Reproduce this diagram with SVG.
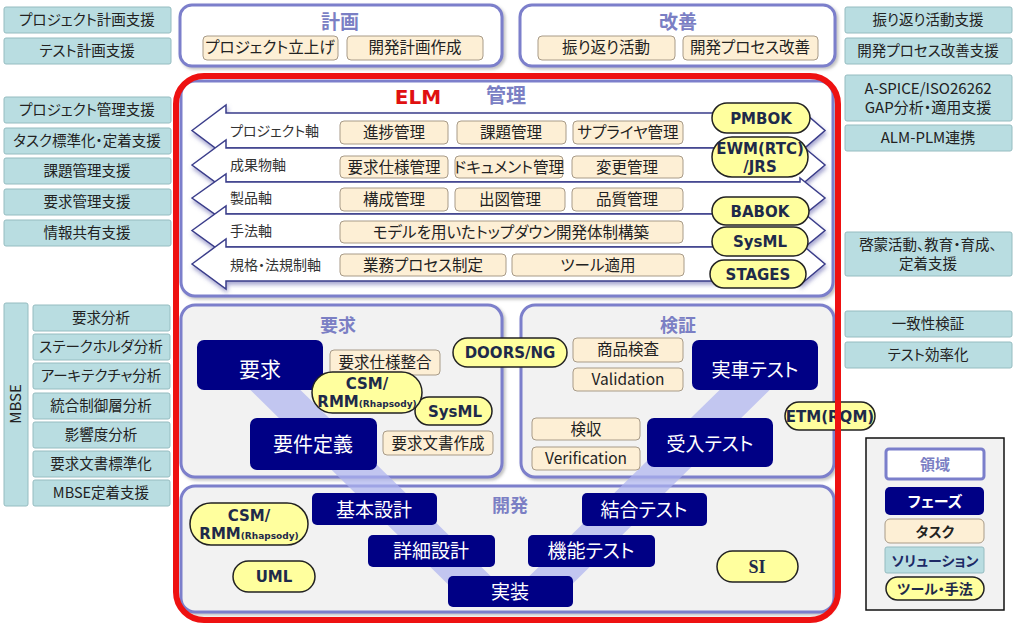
<svg xmlns="http://www.w3.org/2000/svg" width="1024" height="632" viewBox="0 0 1024 632">
<defs>
<filter id="sh" x="-5%" y="-5%" width="110%" height="115%">
<feDropShadow dx="2" dy="2" stdDeviation="1.5" flood-color="#777" flood-opacity="0.45"/>
</filter>
<filter id="ash" x="-5%" y="-20%" width="110%" height="150%">
<feDropShadow dx="1" dy="3" stdDeviation="2" flood-color="#5a5aa8" flood-opacity="0.55"/>
</filter>
<style>
.jp{font-family:"Noto Sans CJK JP","Noto Sans",sans-serif;font-feature-settings:"palt";text-anchor:middle}
.lat{font-family:"DejaVu Sans","Noto Sans CJK JP",sans-serif;font-weight:bold;text-anchor:middle;fill:#1e2a4a}
.sol{fill:#b9dde1;stroke:#95bcc0;stroke-width:1}
.task{fill:#fdefd5;stroke:#a89b88;stroke-width:1}
.tool{fill:#ffff9e;stroke:#222;stroke-width:1.5}
.phase{fill:#000085}
.area{fill:#f2f2f2;stroke:#7b7fcb;stroke-width:3}
.white{fill:#fff;stroke:#7b7fcb;stroke-width:3}
.band{fill:#fff;stroke:#3a3d8a;stroke-width:1.5}
.st{font-size:14.5px;fill:#222}
.tt{font-size:15.5px;fill:#222}
.pt{font-size:20px;fill:#fff}
.ti{font-size:19px;font-weight:bold;fill:#7b7fc4}
.ax{font-size:14px;fill:#333;text-anchor:start}
</style>
</defs>
<rect width="1024" height="632" fill="#fff"/>

<g id="left-solutions">
<rect class="sol" x="4" y="7" width="167" height="26" rx="2"/><text class="jp st" x="87" y="25">プロジェクト計画支援</text>
<rect class="sol" x="4" y="38" width="167" height="26" rx="2"/><text class="jp st" x="87" y="56">テスト計画支援</text>
<rect class="sol" x="4" y="97" width="167" height="26" rx="2"/><text class="jp st" x="87" y="115">プロジェクト管理支援</text>
<rect class="sol" x="4" y="128" width="167" height="26" rx="2"/><text class="jp st" x="87" y="146">タスク標準化・定着支援</text>
<rect class="sol" x="4" y="158" width="167" height="26" rx="2"/><text class="jp st" x="87" y="176">課題管理支援</text>
<rect class="sol" x="4" y="189" width="167" height="26" rx="2"/><text class="jp st" x="87" y="207">要求管理支援</text>
<rect class="sol" x="4" y="220" width="167" height="26" rx="2"/><text class="jp st" x="87" y="238">情報共有支援</text>
</g>

<g id="mbse">
<rect class="sol" x="4" y="303" width="24" height="203" rx="2"/>
<text class="jp st" transform="translate(21,404) rotate(-90)" x="0" y="0" style="font-size:15px">MBSE</text>
<rect class="sol" x="33" y="305" width="137" height="26" rx="2"/><text class="jp st" x="101" y="323">要求分析</text>
<rect class="sol" x="33" y="334" width="137" height="26" rx="2"/><text class="jp st" x="101" y="352">ステークホルダ分析</text>
<rect class="sol" x="33" y="363" width="137" height="26" rx="2"/><text class="jp st" x="101" y="381">アーキテクチャ分析</text>
<rect class="sol" x="33" y="393" width="137" height="26" rx="2"/><text class="jp st" x="101" y="411">統合制御層分析</text>
<rect class="sol" x="33" y="422" width="137" height="26" rx="2"/><text class="jp st" x="101" y="440">影響度分析</text>
<rect class="sol" x="33" y="451" width="137" height="26" rx="2"/><text class="jp st" x="101" y="469">要求文書標準化</text>
<rect class="sol" x="33" y="480" width="137" height="26" rx="2"/><text class="jp st" x="101" y="498">MBSE定着支援</text>
</g>

<g id="right-solutions">
<rect class="sol" x="845" y="7" width="167" height="26" rx="2"/><text class="jp st" x="928" y="25">振り返り活動支援</text>
<rect class="sol" x="845" y="38" width="167" height="26" rx="2"/><text class="jp st" x="928" y="56">開発プロセス改善支援</text>
<rect class="sol" x="845" y="75" width="167" height="46" rx="2"/><text class="jp st" x="928" y="94" style="font-size:15px">A-SPICE/ISO26262</text><text class="jp st" x="928" y="113" style="font-size:15px">GAP分析・適用支援</text>
<rect class="sol" x="845" y="125" width="167" height="26" rx="2"/><text class="jp st" x="928" y="143" style="font-size:15px">ALM-PLM連携</text>
<rect class="sol" x="845" y="232" width="167" height="44" rx="2"/><text class="jp st" x="928" y="250">啓蒙活動、教育・育成、</text><text class="jp st" x="928" y="269">定着支援</text>
<rect class="sol" x="845" y="311" width="167" height="26" rx="2"/><text class="jp st" x="928" y="329">一致性検証</text>
<rect class="sol" x="845" y="342" width="167" height="26" rx="2"/><text class="jp st" x="928" y="360">テスト効率化</text>
</g>

<g id="plan">
<rect class="white" x="180" y="5" width="322" height="61" rx="12" filter="url(#sh)"/>
<text class="jp ti" x="340" y="29">計画</text>
<rect class="task" x="203" y="36" width="135" height="24" rx="4"/><text class="jp tt" x="270" y="53">プロジェクト立上げ</text>
<rect class="task" x="347" y="36" width="136" height="24" rx="4"/><text class="jp tt" x="415" y="53">開発計画作成</text>
</g>

<g id="improve">
<rect class="white" x="520" y="5" width="315" height="61" rx="12" filter="url(#sh)"/>
<text class="jp ti" x="678" y="29">改善</text>
<rect class="task" x="538" y="36" width="137" height="24" rx="4"/><text class="jp tt" x="606" y="53">振り返り活動</text>
<rect class="task" x="683" y="36" width="135" height="24" rx="4"/><text class="jp tt" x="750" y="53">開発プロセス改善</text>
</g>

<g id="management">
<rect class="white" x="181" y="81" width="652" height="215" rx="14" filter="url(#sh)"/>
<text class="jp" x="418" y="104" style="font-size:20px;font-weight:bold;fill:#e01010;font-family:'DejaVu Sans','Noto Sans CJK JP',sans-serif">ELM</text>
<text class="jp ti" x="506" y="103" style="font-size:20px">管理</text>
<g id="axes" filter="url(#ash)">
<polygon class="band" points="192,130.5 226,105 226,113 800,113 800,109 825,130.5 800,152 800,148 226,148 226,156"/>
<polygon class="band" points="192,165 226,140 226,148 800,148 800,144 825,165 800,186 800,182 226,182 226,190"/>
<polygon class="band" points="192,198 226,174 226,182 800,182 800,178 825,198 800,218 800,214 226,214 226,222"/>
<polygon class="band" points="192,230.5 226,206 226,214 800,214 800,210 825,230.5 800,251 800,247 226,247 226,255"/>
<polygon class="band" points="192,264 226,239 226,247 800,247 800,243 825,264 800,285 800,281 226,281 226,289"/>
</g>
<text class="jp ax" x="230" y="136">プロジェクト軸</text>
<text class="jp ax" x="230" y="170">成果物軸</text>
<text class="jp ax" x="230" y="203">製品軸</text>
<text class="jp ax" x="230" y="236">手法軸</text>
<text class="jp ax" x="230" y="270">規格・法規制軸</text>
<rect class="task" x="340" y="121" width="108" height="23" rx="4"/><text class="jp tt" x="394" y="138">進捗管理</text>
<rect class="task" x="457" y="121" width="109" height="23" rx="4"/><text class="jp tt" x="511" y="138">課題管理</text>
<rect class="task" x="573" y="121" width="110" height="23" rx="4"/><text class="jp tt" x="628" y="138">サプライヤ管理</text>
<rect class="task" x="340" y="156" width="108" height="22" rx="4"/><text class="jp tt" x="394" y="173">要求仕様管理</text>
<rect class="task" x="455" y="156" width="108" height="22" rx="4"/><text class="jp tt" x="509" y="173">ドキュメント管理</text>
<rect class="task" x="572" y="156" width="111" height="22" rx="4"/><text class="jp tt" x="627" y="173">変更管理</text>
<rect class="task" x="340" y="188" width="108" height="23" rx="4"/><text class="jp tt" x="394" y="205">構成管理</text>
<rect class="task" x="455" y="188" width="110" height="23" rx="4"/><text class="jp tt" x="510" y="205">出図管理</text>
<rect class="task" x="572" y="188" width="111" height="23" rx="4"/><text class="jp tt" x="627" y="205">品質管理</text>
<rect class="task" x="340" y="221" width="343" height="22" rx="4"/><text class="jp tt" x="511" y="238">モデルを用いたトップダウン開発体制構築</text>
<rect class="task" x="340" y="254" width="166" height="22" rx="4"/><text class="jp tt" x="423" y="271">業務プロセス制定</text>
<rect class="task" x="512" y="254" width="172" height="22" rx="4"/><text class="jp tt" x="598" y="271">ツール適用</text>
<g id="mgmt-tools">
<rect class="tool" x="712" y="103" width="98" height="30" rx="15"/><text class="lat" x="761" y="124" style="font-size:15px">PMBOK</text>
<rect class="tool" x="712" y="137" width="96" height="40" rx="20"/><text class="lat" x="760" y="154" style="font-size:15px">EWM(RTC)</text><text class="lat" x="760" y="172" style="font-size:15px">/JRS</text>
<rect class="tool" x="712" y="197" width="97" height="28" rx="14"/><text class="lat" x="760" y="217" style="font-size:15px">BABOK</text>
<rect class="tool" x="712" y="227" width="96" height="29" rx="14.5"/><text class="lat" x="760" y="247" style="font-size:15px">SysML</text>
<rect class="tool" x="710" y="260" width="96" height="28" rx="14"/><text class="lat" x="758" y="280" style="font-size:15px">STAGES</text>
</g>
</g>

<g id="requirements-area">
<rect class="area" x="181" y="305" width="321" height="172" rx="14" filter="url(#sh)"/>
<text class="jp ti" x="338" y="332" style="font-size:18px">要求</text>
</g>
<g id="verification-area">
<rect class="area" x="521" y="305" width="313" height="172" rx="14" filter="url(#sh)"/>
<text class="jp ti" x="678" y="332" style="font-size:18px">検証</text>
</g>
<g id="development-area">
<rect class="area" x="181" y="486" width="653" height="126" rx="14" filter="url(#sh)"/>
<text class="jp ti" x="510" y="512" style="font-size:18px">開発</text>
</g>

<g id="connectors">
<polygon points="230,370 280,370 510,595 740,370 790,370 550,606 470,606" fill="#aeb3f0" fill-opacity="0.7"/>
</g>

<g id="phases">
<g id="p-req"><rect class="phase" x="197" y="340" width="126" height="50" rx="7"/><text class="jp pt" x="260" y="377" style="font-size:21px">要求</text></g>
<g id="p-reqdef"><rect class="phase" x="250" y="418" width="127" height="52" rx="7"/><text class="jp pt" x="313" y="452">要件定義</text></g>
<g id="p-vehicle"><rect class="phase" x="692" y="340" width="126" height="50" rx="7"/><text class="jp pt" x="755" y="377" style="font-size:19px">実車テスト</text></g>
<g id="p-accept"><rect class="phase" x="647" y="418" width="126" height="49" rx="7"/><text class="jp pt" x="710" y="451" style="font-size:19px">受入テスト</text></g>
<g id="p-basic"><rect class="phase" x="312" y="493" width="125" height="32" rx="5"/><text class="jp pt" x="374" y="517" style="font-size:19px">基本設計</text></g>
<g id="p-detail"><rect class="phase" x="368" y="535" width="127" height="32" rx="5"/><text class="jp pt" x="431" y="558" style="font-size:19px">詳細設計</text></g>
<g id="p-impl"><rect class="phase" x="448" y="576" width="125" height="31" rx="5"/><text class="jp pt" x="510" y="599" style="font-size:19px">実装</text></g>
<g id="p-integ"><rect class="phase" x="582" y="493" width="125" height="33" rx="5"/><text class="jp pt" x="644" y="517" style="font-size:19px">結合テスト</text></g>
<g id="p-func"><rect class="phase" x="528" y="535" width="127" height="32" rx="5"/><text class="jp pt" x="591" y="558" style="font-size:19px">機能テスト</text></g>
</g>

<g id="area-tasks">
<rect class="task" x="330" y="350" width="110" height="25" rx="4"/><text class="jp tt" x="385" y="368">要求仕様整合</text>
<rect class="task" x="383" y="431" width="110" height="24" rx="4"/><text class="jp tt" x="438" y="449">要求文書作成</text>
<rect class="task" x="573" y="338" width="110" height="24" rx="4"/><text class="jp tt" x="628" y="355">商品検査</text>
<rect class="task" x="573" y="368" width="110" height="23" rx="4"/><text class="jp tt" x="628" y="385">Validation</text>
<rect class="task" x="532" y="418" width="108" height="22" rx="4"/><text class="jp tt" x="586" y="435">検収</text>
<rect class="task" x="532" y="447" width="108" height="23" rx="4"/><text class="jp tt" x="586" y="464">Verification</text>
</g>

<g id="area-tools">
<rect class="tool" x="415" y="397" width="77" height="28" rx="14"/><text class="lat" x="455" y="417" style="font-size:15px">SysML</text>
<rect class="tool" x="312" y="372" width="110" height="41" rx="20.5"/><text class="lat" x="367" y="389" style="font-size:15px">CSM/</text><text class="lat" x="367" y="407" style="font-size:15px">RMM<tspan style="font-size:9px">(Rhapsody)</tspan></text>
<rect class="tool" x="453" y="338" width="114" height="29" rx="14.5"/><text class="lat" x="510" y="358" style="font-size:15px">DOORS/NG</text>
<rect class="tool" x="190" y="503" width="118" height="42" rx="21"/><text class="lat" x="249" y="521" style="font-size:15px">CSM/</text><text class="lat" x="249" y="539" style="font-size:15px">RMM<tspan style="font-size:9px">(Rhapsody)</tspan></text>
<rect class="tool" x="233" y="561" width="82" height="31" rx="15.5"/><text class="lat" x="274" y="582" style="font-size:15px">UML</text>
<rect class="tool" x="717" y="551" width="81" height="31" rx="15.5"/><text x="757" y="573" style="font-family:'Liberation Serif',serif;font-weight:bold;font-size:18px;fill:#1e2a4a;text-anchor:middle">SI</text>
<rect class="tool" x="785" y="402" width="90" height="28" rx="14"/><text class="lat" x="830" y="422" style="font-size:15px">ETM(RQM)</text>
</g>

<g id="elm-frame">
<rect x="176" y="76" width="662" height="544" rx="28" fill="none" stroke="#ee1111" stroke-width="6"/>
</g>

<g id="legend">
<rect x="866" y="438" width="138" height="172" fill="#f2f2f2" stroke="#111" stroke-width="1.5"/>
<rect x="886" y="449" width="98" height="30" rx="3" fill="#fff" stroke="#7b7fcb" stroke-width="3"/><text class="jp" x="935" y="470" style="font-size:15px;font-weight:bold;fill:#7b7fc4">領域</text>
<rect class="phase" x="885" y="487" width="99" height="28" rx="5"/><text class="jp" x="935" y="507" style="font-size:15px;font-weight:bold;fill:#fff">フェーズ</text>
<rect class="task" x="885" y="519" width="99" height="24" rx="5"/><text class="jp" x="935" y="537" style="font-size:14px;font-weight:bold;fill:#222">タスク</text>
<rect class="sol" x="885" y="547" width="99" height="26" rx="2"/><text class="jp" x="935" y="566" style="font-size:14px;font-weight:bold;fill:#1c2a66">ソリューション</text>
<rect class="tool" x="886" y="577" width="98" height="23" rx="11.5"/><text class="jp" x="935" y="594" style="font-size:14px;font-weight:bold;fill:#1e2a4a">ツール・手法</text>
</g>
</svg>
